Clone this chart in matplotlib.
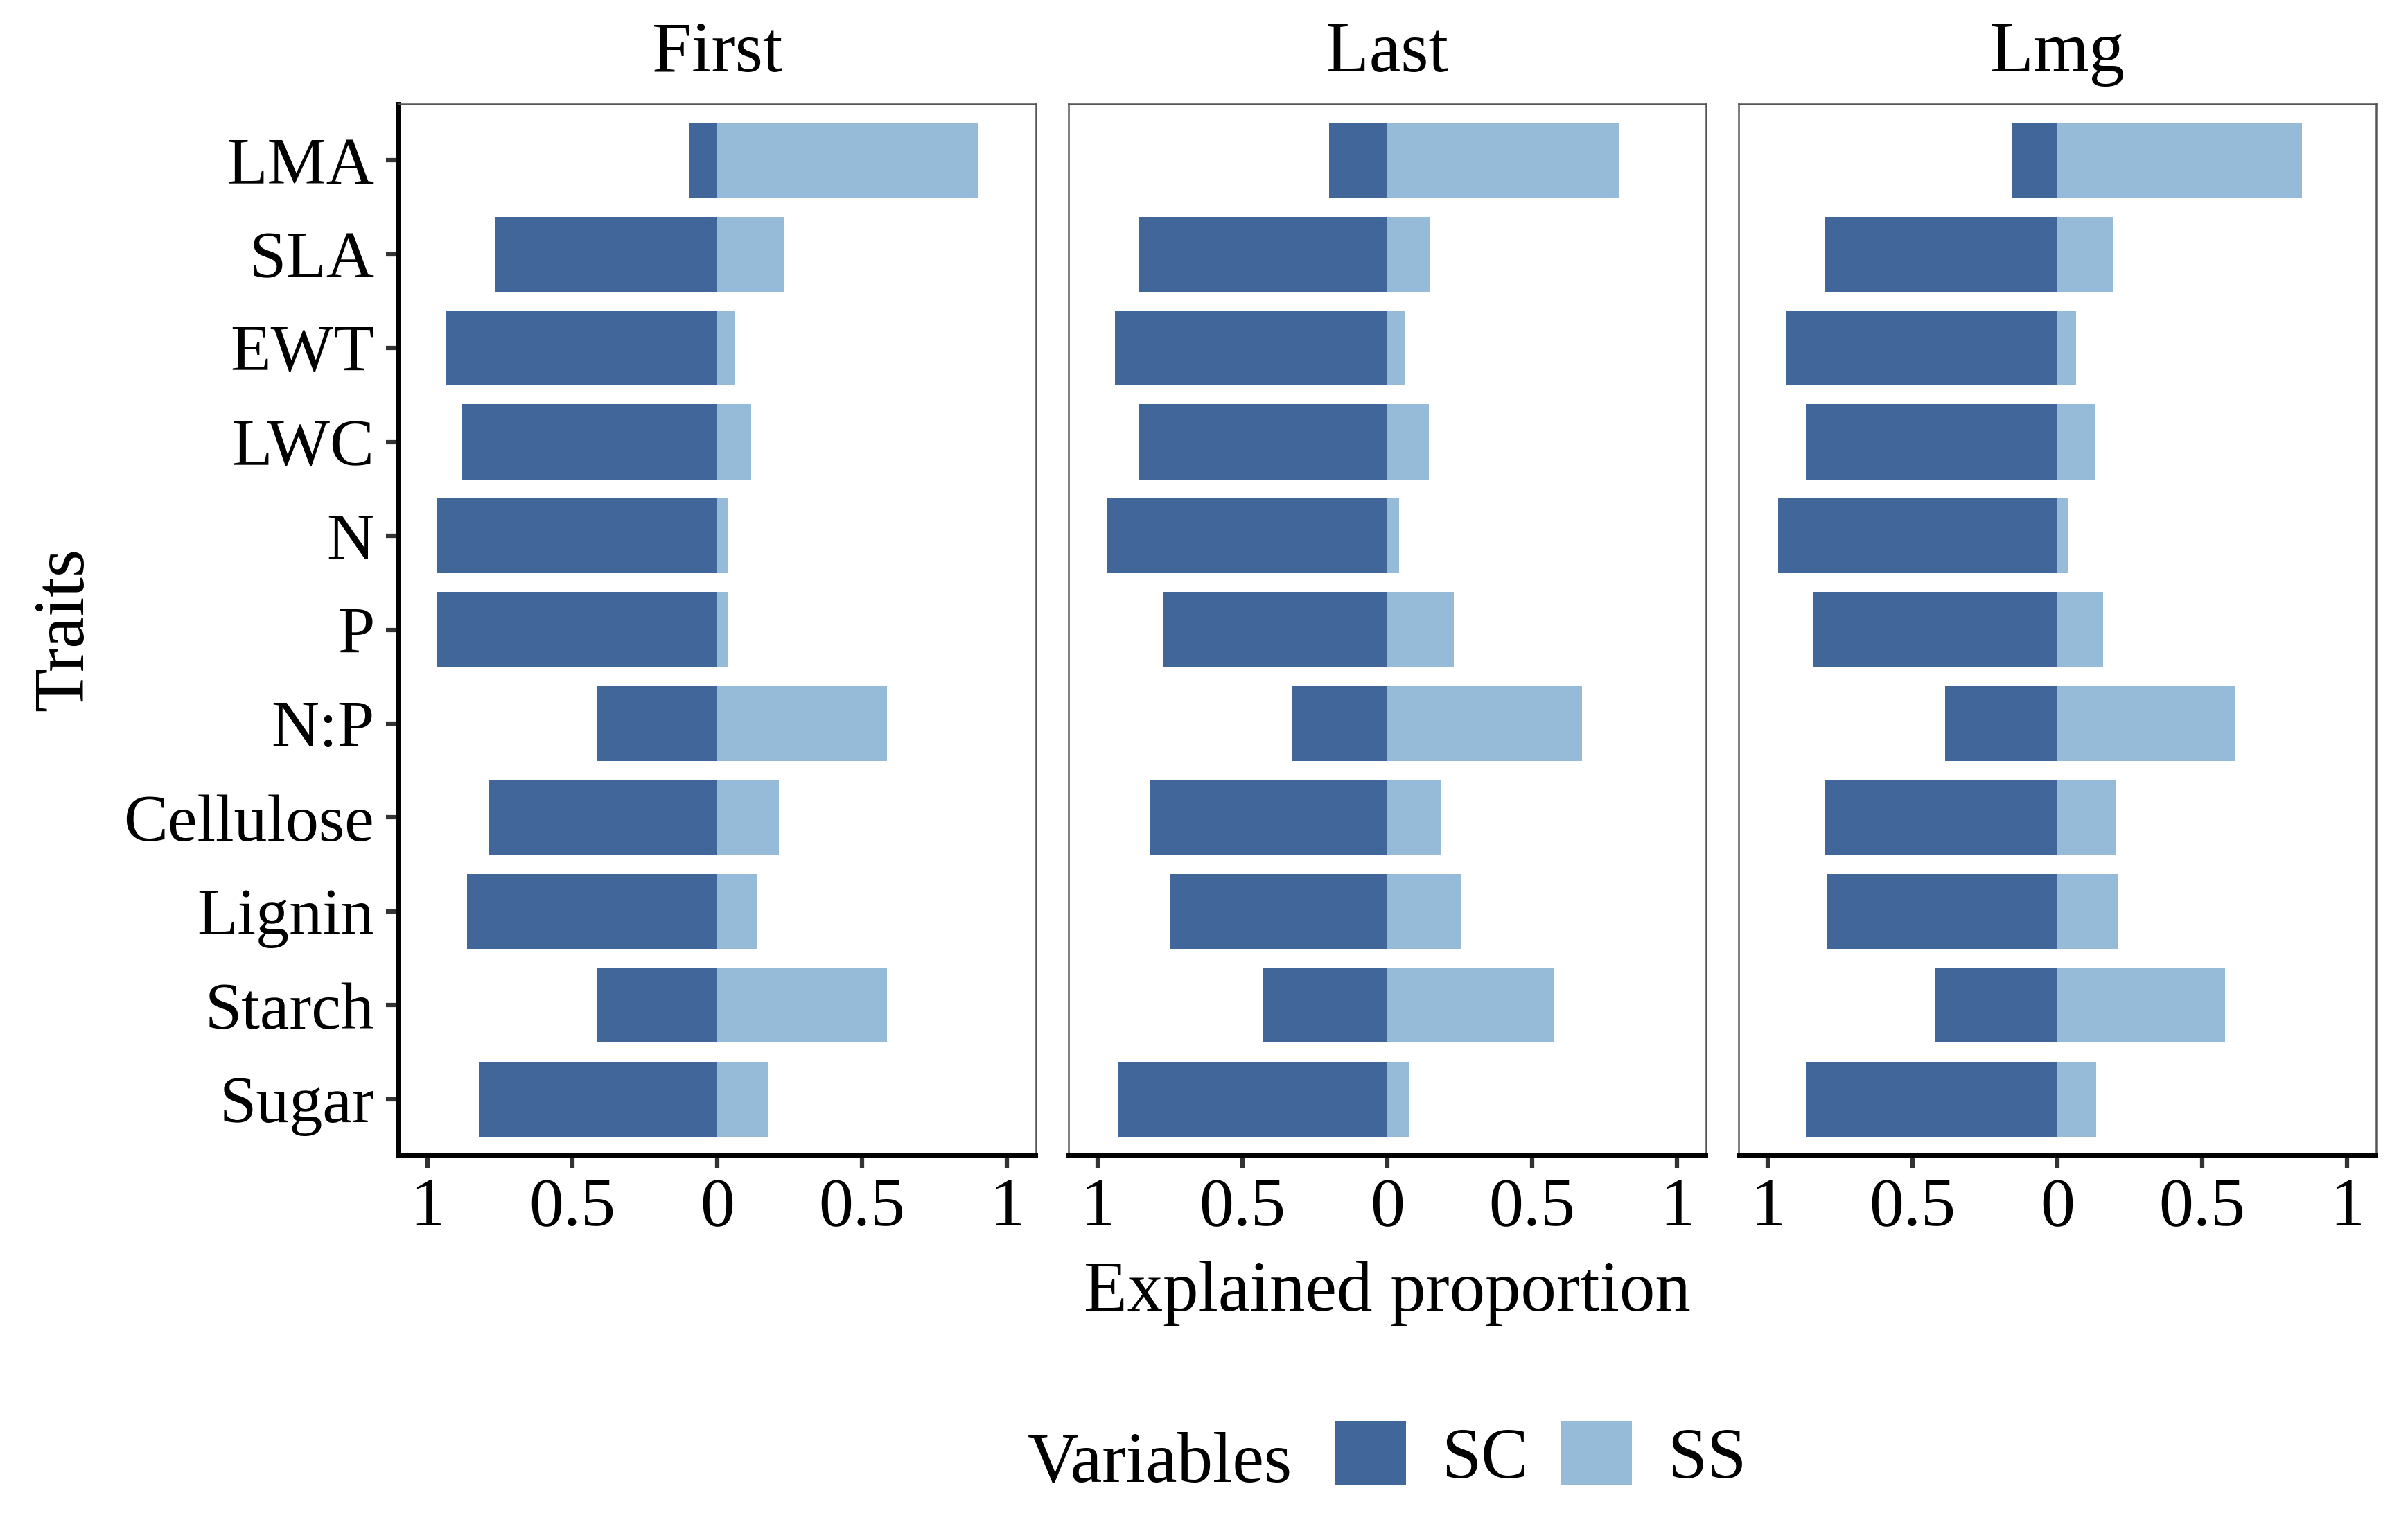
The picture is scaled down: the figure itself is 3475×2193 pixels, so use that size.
import numpy as np
import matplotlib
matplotlib.use("Agg")
import matplotlib.pyplot as plt
from matplotlib.patches import Patch

traits = ["LMA", "SLA", "EWT", "LWC", "N", "P", "N:P",
          "Cellulose", "Lignin", "Starch", "Sugar"]
panels = ["First", "Last", "Lmg"]

# explained proportion of SC (drawn to the left) and SS (to the right)
sc_first = [0.095, 0.766, 0.937, 0.883, 0.966, 0.965, 0.413, 0.787, 0.864, 0.413, 0.822]
ss_first = [0.900, 0.232, 0.063, 0.117, 0.035, 0.036, 0.587, 0.213, 0.136, 0.587, 0.177]
sc_last = [0.201, 0.858, 0.940, 0.859, 0.965, 0.773, 0.330, 0.818, 0.749, 0.431, 0.930]
ss_last = [0.802, 0.145, 0.063, 0.144, 0.040, 0.230, 0.672, 0.185, 0.255, 0.573, 0.075]
sc_lmg = [0.155, 0.804, 0.936, 0.869, 0.964, 0.841, 0.387, 0.800, 0.793, 0.422, 0.867]
ss_lmg = [0.844, 0.194, 0.064, 0.131, 0.036, 0.159, 0.613, 0.200, 0.207, 0.578, 0.134]

sc_vals = [sc_first, sc_last, sc_lmg]
ss_vals = [ss_first, ss_last, ss_lmg]

dark = "#41669a"
light = "#95bbd8"

plt.rcParams['font.family'] = ['Liberation Serif', 'DejaVu Serif']

W, H = 3475, 2193
fig = plt.figure(figsize=(W / 100, H / 100), dpi=100)

lefts = [575, 1542, 2509]
pw = 920
top, bottom = 150, 1667
y = np.arange(len(traits))

for i, name in enumerate(panels):
    ax = fig.add_axes([lefts[i] / W, 1 - bottom / H, pw / W, (bottom - top) / H])
    ax.barh(y, -np.array(sc_vals[i]), height=0.8, color=dark, label="SC")
    ax.barh(y, ss_vals[i], height=0.8, color=light, label="SS")
    ax.set_xlim(-1.1, 1.1)
    ax.set_ylim(len(traits) - 0.4, -0.6)
    ax.set_xticks([-1, -0.5, 0, 0.5, 1])
    ax.set_xticklabels(["1", "0.5", "0", "0.5", "1"], fontsize=72)
    ax.tick_params(axis='x', length=13, width=4.5, pad=10, color='#333333')
    for s in ['top', 'right', 'left']:
        ax.spines[s].set_linewidth(1.8)
        ax.spines[s].set_color('#555555')
    ax.spines['bottom'].set_linewidth(4.3)
    ax.spines['bottom'].set_color('black')
    if i == 0:
        ax.set_yticks(y)
        ax.set_yticklabels(traits, fontsize=69)
        ax.tick_params(axis='y', length=13, width=4.5, pad=12, color='#333333')
        ax.spines['left'].set_linewidth(4.3)
        ax.spines['left'].set_color('black')
    else:
        ax.set_yticks([])
    ax.set_title(name, fontsize=74, pad=34)

fig.text(2002 / W, 1 - 1891 / H, "Explained proportion", fontsize=74,
         ha='center', va='baseline')
fig.text(94 / W, 1 - 908 / H, "Traits", fontsize=74, rotation=90,
         ha='center', va='center')

fig.text(1483 / W, 1 - 2138 / H, "Variables", fontsize=74, ha='left', va='baseline')
handles = [Patch(facecolor=dark, label="SC"), Patch(facecolor=light, label="SS")]
fig.legend(handles=handles, ncol=2, loc='center left',
           bbox_to_anchor=(1926 / W, 1 - 2102 / H), frameon=False,
           fontsize=74, handlelength=1.0, handleheight=1.0,
           handletextpad=0.5, columnspacing=0.45, borderpad=0, borderaxespad=0)

fig.savefig("out.png", dpi=100)
